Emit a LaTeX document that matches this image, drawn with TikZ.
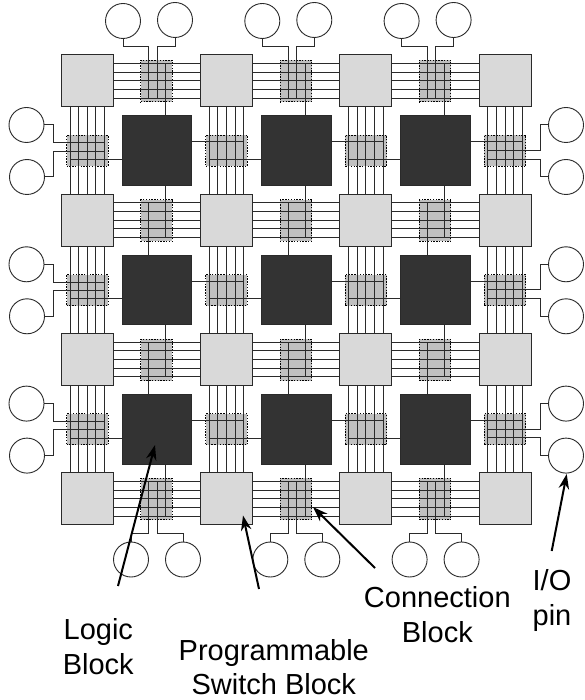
\documentclass[tikz,border=0pt]{standalone}
\usepackage{fontspec}
\setmainfont{Liberation Sans}
\usetikzlibrary{arrows.meta}
\definecolor{sbfill}{HTML}{D9D9D9}
\definecolor{lbfill}{HTML}{333333}
\definecolor{cbfill}{HTML}{C0C0C0}
\definecolor{wirec}{HTML}{2A2A2A}
\tikzset{
  sbox/.style={draw=wirec,line width=1pt,fill=sbfill,minimum size=52pt,inner sep=0,outer sep=0},
  lbox/.style={draw=wirec,line width=1pt,fill=lbfill,minimum size=69.5pt,inner sep=0,outer sep=0},
  hcbox/.style={draw=black,line width=1pt,dash pattern=on 1.4pt off 1.4pt,fill=cbfill,minimum width=31.5pt,minimum height=41.5pt,inner sep=0,outer sep=0},
  vcbox/.style={draw=black,line width=1pt,dash pattern=on 1.4pt off 1.4pt,fill=cbfill,minimum width=41.5pt,minimum height=31pt,inner sep=0,outer sep=0},
  pin/.style={circle,draw=wirec,line width=0.9pt,fill=white,minimum size=35pt,inner sep=0,outer sep=0},
  wire/.style={draw=wirec,line width=1pt},
  lab/.style={font=\fontsize{29}{34.7}\selectfont,align=center,inner sep=0,text=black,anchor=base},
  callout/.style={draw=black,line width=2pt,-{Stealth[length=15pt,width=10.5pt]}}
}
\begin{document}
\begin{tikzpicture}[x=1pt,y=-1pt]
\useasboundingbox (0,0) rectangle (584,700);
\fill[white] (0,0) rectangle (584,700);
% connection boxes
\foreach \i in {0,1,2}{\foreach \j in {0,1,2,3}{
  \node[hcbox] (hc-\i-\j) at (156.5+139.3*\i,81.2+139.3*\j) {};
}}
\foreach \i in {0,1,2,3}{\foreach \j in {0,1,2}{
  \node[vcbox] (vc-\i-\j) at (87.3+139.3*\i,150.7+139.3*\j) {};
}}
% switch and logic blocks
\foreach \i in {0,1,2,3}{\foreach \j in {0,1,2,3}{
  \node[sbox] (sb-\i-\j) at (87.3+139.3*\i,81+139.3*\j) {};
}}
\foreach \i in {0,1,2}{\foreach \j in {0,1,2}{
  \node[lbox] (lb-\i-\j) at (157+139.3*\i,150.7+139.3*\j) {};
}}
% tracks
\foreach \i/\ii in {0/1,1/2,2/3}{\foreach \j in {0,1,2,3}{
  \foreach \o in {-17.3,-8.65,0,8.65,17.3}{
    \draw[wire] ([yshift=\o pt]sb-\i-\j.east) -- ([yshift=\o pt]sb-\ii-\j.west);
  }
}}
\foreach \j/\jj in {0/1,1/2,2/3}{\foreach \i in {0,1,2,3}{
  \foreach \o in {-17.3,-8.65,0,8.65,17.3}{
    \draw[wire] ([xshift=\o pt]sb-\i-\j.south) -- ([xshift=\o pt]sb-\i-\jj.north);
  }
}}
% logic block to tracks of the horizontal channels
\foreach \i in {0,1,2}{
  \draw[wire] ([xshift=8.7pt]lb-\i-0.north) -- ([xshift=8.7pt,yshift=52pt]lb-\i-0.north);
  \foreach \j/\jj in {0/1,1/2}{
    \draw[wire] ([xshift=8.7pt]lb-\i-\j.south) -- ([xshift=8.7pt,yshift=17.4pt]lb-\i-\jj.north);
    \draw[wire] ([xshift=-8.3pt]lb-\i-\jj.north) -- ([xshift=-8.3pt,yshift=52pt]lb-\i-\jj.north);
  }
  \draw[wire] ([xshift=8.7pt]lb-\i-2.south) -- ([xshift=8.7pt,yshift=-52.2pt]lb-\i-2.south);
}
% logic block to vertical channels
\foreach \j in {0,1,2}{
  \foreach \i/\ii in {0/1,1/2,2/3}{
    \draw[wire] ([yshift=8.7pt]lb-\i-\j.east) -- ([yshift=8.7pt,xshift=17.3pt]vc-\ii-\j.center);
    \draw[wire] ([yshift=-8.8pt]lb-\i-\j.west) -- ([yshift=-8.8pt,xshift=-17.3pt]vc-\i-\j.center);
  }
}
% top and bottom pins
\foreach \i in {0,1,2}{
  \node[pin] (pta-\i) at (123+139.3*\i,21) {};
  \node[pin] (ptb-\i) at (175+139.3*\i,20) {};
  \node[pin] (pba-\i) at (131+139.3*\i,559.5) {};
  \node[pin] (pbb-\i) at (183+139.3*\i,559.5) {};
  \coordinate (tea-\i) at ([xshift=-7.8pt,yshift=-17.2pt]hc-\i-0.center);
  \coordinate (teb-\i) at ([xshift=0.5pt,yshift=-17.2pt]hc-\i-0.center);
  \coordinate (bea-\i) at ([xshift=-7.8pt,yshift=17.3pt]hc-\i-3.center);
  \coordinate (beb-\i) at ([xshift=0.5pt,yshift=17.3pt]hc-\i-3.center);
  \draw[wire] (pta-\i.south) -- ++(0,8.2) -| (tea-\i);
  \draw[wire] (ptb-\i.south) -- ++(0,9.2) -| (teb-\i);
  \draw[wire] (pba-\i.north) -- ++(0,-9) -| (bea-\i);
  \draw[wire] (pbb-\i.north) -- ++(0,-9) -| (beb-\i);
}
% left and right pins
\foreach \j in {0,1,2}{
  \node[pin] (pla-\j) at (26.5,125+139.3*\j) {};
  \node[pin] (plb-\j) at (27,177+139.3*\j) {};
  \node[pin] (pra-\j) at (566,125+139.3*\j) {};
  \node[pin] (prb-\j) at (566,177+139.3*\j) {};
  \coordinate (lea-\j) at ([xshift=17.3pt,yshift=8pt]vc-0-\j.center);
  \coordinate (leb-\j) at ([xshift=17.3pt,yshift=-0.6pt]vc-0-\j.center);
  \coordinate (rea-\j) at ([xshift=-17.3pt,yshift=0.2pt]vc-3-\j.center);
  \coordinate (reb-\j) at ([xshift=-17.3pt,yshift=-8.4pt]vc-3-\j.center);
  \draw[wire] (pla-\j.east) -- ++(9,0) |- (lea-\j);
  \draw[wire] (plb-\j.east) -- ++(8.5,0) |- (leb-\j);
  \draw[wire] (pra-\j.west) -- ++(-8.5,0) |- (rea-\j);
  \draw[wire] (prb-\j.west) -- ++(-8.5,0) |- (reb-\j);
}
% labels
\node[lab] (logiclab) at (98.3,674) {Logic\\Block};
\node[lab] (switchlab) at (273.8,694.7) {Programmable\\Switch Block};
\node[lab] (connlab) at (437.3,642.4) {Connection\\Block};
\node[lab] (iolab) at (552,625.4) {I/O\\pin};
% callouts
\coordinate (logictail) at (118,586);
\coordinate (logictip) at (155,445);
\coordinate (switchtail) at (259,589);
\coordinate (switchtip) at (243,515.5);
\coordinate (conntail) at (375,568);
\coordinate (conntip) at (313,507);
\coordinate (iotail) at (551.7,551);
\coordinate (iotip) at (566.7,474);
\draw[callout] (logictail) -- (logictip);
\draw[callout] (switchtail) -- (switchtip);
\draw[callout] (conntail) -- (conntip);
\draw[callout] (iotail) -- (iotip);
\end{tikzpicture}
\end{document}
